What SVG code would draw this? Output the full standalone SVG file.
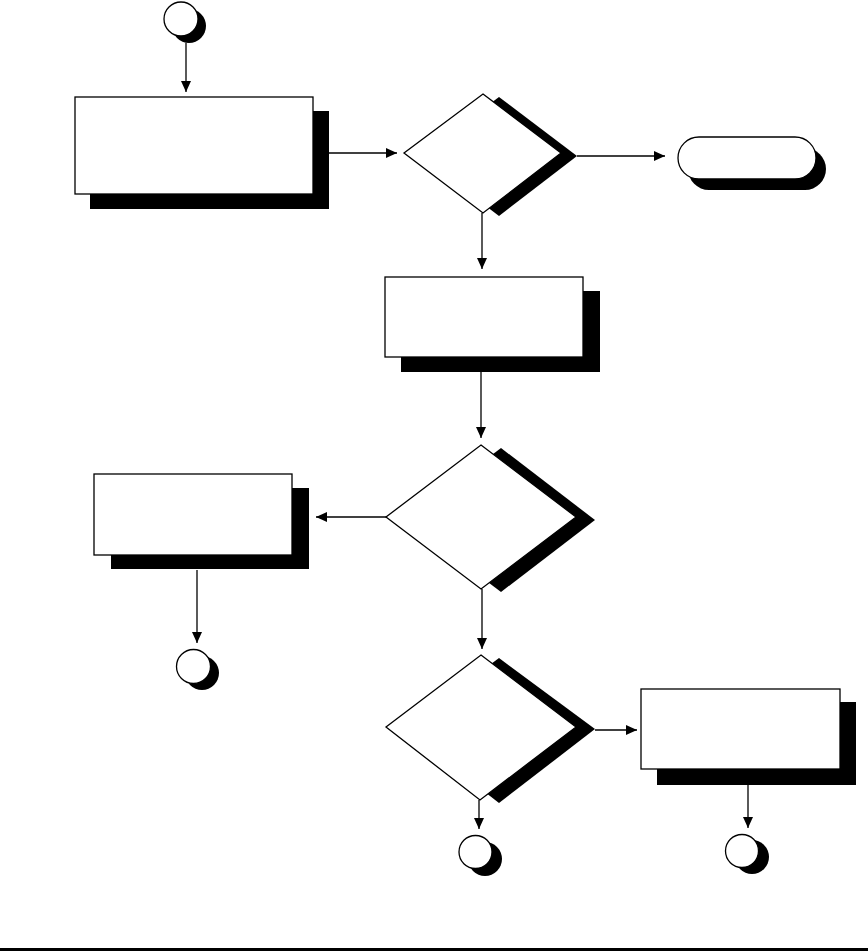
<svg xmlns="http://www.w3.org/2000/svg" width="868" height="951" viewBox="0 0 868 951">
<style>
.sh{fill:#000;stroke:none}
.fg{fill:#fff;stroke:#000;stroke-width:1.3}
.ln{fill:none;stroke:#000;stroke-width:1.3}
</style>
<defs>
<marker id="ah" markerWidth="12" markerHeight="10" refX="11" refY="5" orient="auto" markerUnits="userSpaceOnUse">
<path d="M0,0 L11,5 L0,10 Z" fill="#000"/>
</marker>
</defs>
<rect width="868" height="951" fill="#fff"/>
<g id="connectors">
<path class="ln" d="M186,43 V92" marker-end="url(#ah)"/>
<path class="ln" d="M329,153 H397" marker-end="url(#ah)"/>
<path class="ln" d="M577,156 H665" marker-end="url(#ah)"/>
<path class="ln" d="M482,213 V269" marker-end="url(#ah)"/>
<path class="ln" d="M481,372 V438" marker-end="url(#ah)"/>
<path class="ln" d="M386,517 H316" marker-end="url(#ah)"/>
<path class="ln" d="M197,570 V643" marker-end="url(#ah)"/>
<path class="ln" d="M482,589 V649" marker-end="url(#ah)"/>
<path class="ln" d="M595,730 H637" marker-end="url(#ah)"/>
<path class="ln" d="M748,785 V828" marker-end="url(#ah)"/>
<path class="ln" d="M479,800 V829" marker-end="url(#ah)"/>
</g>
<g id="start">
<circle class="sh" cx="189" cy="26" r="17"/>
<circle class="fg" cx="181" cy="19" r="17"/>
</g>
<g id="box1">
<rect class="sh" x="90" y="111" width="239" height="98"/>
<rect class="fg" x="75" y="97" width="238" height="97"/>
</g>
<g id="decision1">
<polygon class="sh" points="499,97 577,156 499,216 420,156"/>
<polygon class="fg" points="483,94 561,153 483,213 404,153"/>
</g>
<g id="terminator">
<rect class="sh" x="688" y="148" width="138" height="42" rx="21"/>
<rect class="fg" x="678" y="137" width="138" height="42" rx="21"/>
</g>
<g id="box2">
<rect class="sh" x="401" y="291" width="199" height="81"/>
<rect class="fg" x="385" y="277" width="198" height="80"/>
</g>
<g id="decision2">
<polygon class="sh" points="501,448 595,520 501,592 406,520"/>
<polygon class="fg" points="481,445 576,517 481,589 386,517"/>
</g>
<g id="box3">
<rect class="sh" x="111" y="488" width="198" height="81"/>
<rect class="fg" x="94" y="474" width="198" height="81"/>
</g>
<g id="connector-left">
<circle class="sh" cx="202" cy="673" r="17"/>
<circle class="fg" cx="193.5" cy="666.5" r="17"/>
</g>
<g id="decision3">
<polygon class="sh" points="499,658 595,729 499,803 404,729"/>
<polygon class="fg" points="481,655 576,727 480,800 386,727"/>
</g>
<g id="box4">
<rect class="sh" x="657" y="702" width="199" height="83"/>
<rect class="fg" x="641" y="689" width="199" height="80"/>
</g>
<g id="connector-mid">
<circle class="sh" cx="485" cy="859" r="17"/>
<circle class="fg" cx="475.5" cy="852" r="16.5"/>
</g>
<g id="connector-right">
<circle class="sh" cx="752" cy="857" r="17"/>
<circle class="fg" cx="742" cy="851" r="16.5"/>
</g>
<rect x="0" y="948" width="868" height="3" fill="#000"/>
</svg>
